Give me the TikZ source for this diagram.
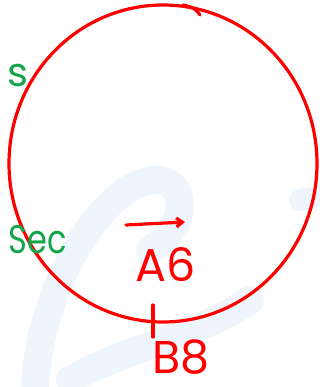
\documentclass[tikz,border=0pt]{standalone}
\usepackage{fontspec}
\setmainfont{Poppins}
\usepackage{xcolor}
\definecolor{inkred}{HTML}{FF0000}
\definecolor{inkgreen}{HTML}{12A54A}
\definecolor{markfaint}{HTML}{EEF5FC}
\usetikzlibrary{arrows.meta, positioning}
\tikzset{
  redink/.style={inkred, line width=3.2pt, line cap=round},
  greenword/.style={inkgreen, font=\fontsize{40}{40}\selectfont},
  redword/.style={inkred, inner sep=0pt, anchor=base,
                  font=\fontsize{46}{46}\selectfont},
  faintband/.style={markfaint, line width=28pt, line cap=round},
}

\begin{document}
\begin{tikzpicture}[x=1pt, y=-1pt]
  \useasboundingbox (0,0) rectangle (320,387);

  % faint logo in the background
  \draw[faintband] (35,387) .. controls (40,280) and (110,175) .. (160,180)
                            .. controls (190,185) and (185,230) .. (150,250);
  \draw[faintband] (70,380) .. controls (120,350) and (200,335) .. (250,300);
  \draw[markfaint, line width=22pt, line cap=round] (300,200) -- (320,196);

  % the loop
  \draw[redink] (163,163.5) ellipse [x radius=154, y radius=158.5];
  \draw[redink] (183,5) .. controls (193,7) and (197,10) .. (200,15);

  % green notes on the left
  \node[greenword] (slabel) at (18,76) {s};
  \node[greenword, xscale=0.8] (seclabel) at (38,240) {Sec};

  % direction and labels
  \coordinate (arrowtail) at (126,225);
  \coordinate (arrowhead) at (185,222);
  \draw[redink, -{Straight Barb[length=6pt, width=9pt]}] (arrowtail) -- (arrowhead);
  \node[redword] (asix) at (166,281) {A6};

  \coordinate (ticktop) at (153,305);
  \coordinate (tickbottom) at (153,337);
  \draw[redink] (ticktop) -- (tickbottom);
  \node[redword] (beight) at (181,373) {B8};
\end{tikzpicture}
\end{document}
